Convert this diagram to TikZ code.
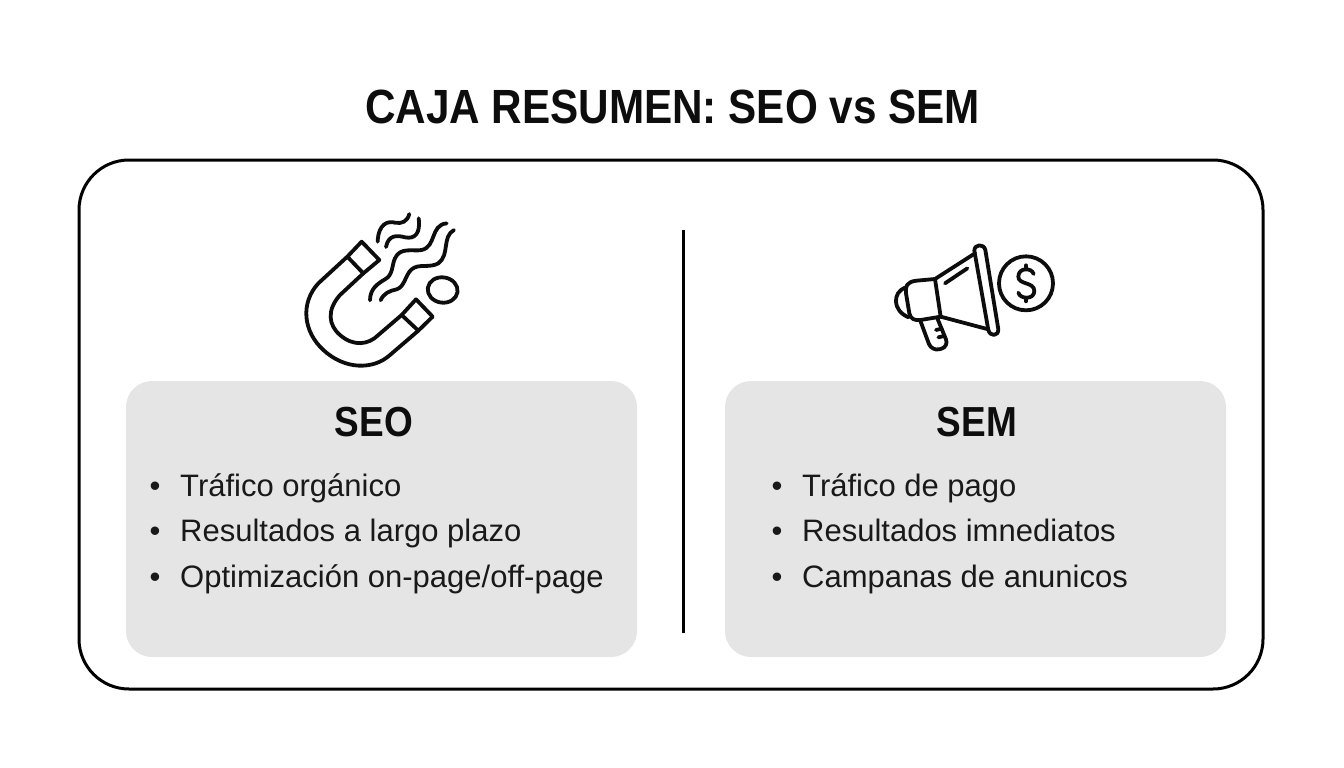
\documentclass[tikz,border=0pt]{standalone}
\usepackage{fontspec}
\setmainfont{Liberation Sans}
\newfontfamily\titlefont[FakeStretch=0.88]{Liberation Sans}
\usetikzlibrary{positioning}
\tikzset{
    panel/.style={fill=black!10,rounded corners=26pt,minimum height=276pt,inner sep=0pt},
    heading/.style={font=\titlefont\fontsize{42pt}{42pt}\selectfont\bfseries,text=black!95},
    listitem/.style={anchor=base west,inner sep=0pt,font=\fontsize{31pt}{31pt}\selectfont,text=black!90},
    icon/.style={line width=3.8pt,line cap=round,line join=round,black!95},
}
\newcommand{\itembullet}{\makebox[30.5pt][l]{\textbullet}}

\begin{document}
\begin{tikzpicture}[x=1pt,y=-1pt]
    \useasboundingbox (0,0) rectangle (1344,768);

    % Title
    \node[text=black!95,font=\titlefont\bfseries\fontsize{48pt}{48pt}\selectfont] (title) at (672.5,107) {CAJA RESUMEN: SEO vs SEM};

    % Outer box
    \draw[line width=3pt,rounded corners=50pt] (79,160) rectangle (1263,689);

    % Divider
    \coordinate (divtop) at (683,230);
    \coordinate (divbottom) at (683,633);
    \draw[line width=3pt] (divtop) -- (divbottom);

    % Panels
    \node[panel,minimum width=511pt] (seopanel) at (381.5,519) {};
    \node[panel,minimum width=501pt] (sempanel) at (975.5,519) {};

    % SEO text
    \node[heading] (seohead) at (374,422) {SEO};
    \node[listitem] (seoa) at (149.5,496.5) {\itembullet Tráfico orgánico};
    \node[listitem] (seob) at (149.5,541.5) {\itembullet Resultados a largo plazo};
    \node[listitem] (seoc) at (149.5,587.5) {\itembullet Optimización on-page/off-page};

    % SEM text
    \node[heading] (semhead) at (977,422) {SEM};
    \node[listitem] (sema) at (771.5,496.5) {\itembullet Tráfico de pago};
    \node[listitem] (semb) at (771.5,541.5) {\itembullet Resultados imnediatos};
    \node[listitem] (semc) at (771.5,587.5) {\itembullet Campanas de anunicos};

    % Magnet icon
    \begin{scope}[shift={(290,200)},scale=1/3,icon]
        \draw (172,170) -- (215,125) -- (268,180) -- (220,220) -- cycle;
        \draw (335,345) -- (378,298) -- (428,350) -- (385,392) -- cycle;
        \draw (172,170) -- (85,250) .. controls (30,310) and (40,395) .. (100,450)
            .. controls (165,510) and (250,510) .. (300,465) -- (385,392);
        \draw (220,220) -- (150,285) .. controls (110,330) and (115,375) .. (150,405)
            .. controls (190,440) and (235,435) .. (265,405) -- (335,345);
        % waves
        \draw (263,125) .. controls (265,70) and (295,62) .. (315,68) .. controls (335,72) and (352,65) .. (358,42);
        \draw (288,141) .. controls (295,105) and (320,105) .. (345,112) .. controls (375,118) and (392,100) .. (386,55);
        \draw (240,301) .. controls (240,265) and (265,250) .. (285,238) .. controls (310,225) and (305,195) .. (315,175)
            .. controls (330,140) and (370,155) .. (395,150) .. controls (440,140) and (420,75) .. (470,70);
        \draw (272,301) .. controls (280,280) and (300,272) .. (320,268) .. controls (345,260) and (345,225) .. (365,208)
            .. controls (385,190) and (420,205) .. (445,190) .. controls (480,165) and (455,110) .. (492,90);
        \draw[rotate around={-8:(458,270)}] (458,270) ellipse [x radius=45,y radius=38];
    \end{scope}

    % Megaphone icon
    \begin{scope}[shift={(880,230)},scale=1/3,icon]
        \draw (78,172) .. controls (55,180) and (48,197) .. (48,212) .. controls (48,235) and (62,252) .. (86,262);
        \draw (165,147) -- (110,152) .. controls (80,155) and (75,170) .. (78,190) -- (88,250) .. controls (92,268) and (105,272) .. (122,270) -- (182,260);
        \draw (165,147) -- (182,260);
        \draw (165,147) -- (285,70);
        \draw (182,260) -- (325,298);
        \draw (283,62) .. controls (283,42) and (312,40) .. (316,60) -- (355,298) .. controls (355,320) and (330,320) .. (325,300) -- cycle;
        \draw (195,160) -- (262,115);
        \draw[rounded corners=8pt] (122,275) -- (155,364) -- (207,350) -- (172,265);
        \draw (168,300) -- (185,296) (175,322) -- (192,318);
        \draw (438,160) circle [radius=81];
        \draw (461,132) .. controls (455,112) and (415,112) .. (415,140) .. controls (415,165) and (463,155) .. (463,183)
            .. controls (463,210) and (420,208) .. (415,188);
        \draw (438,106) -- (438,116) (438,204) -- (438,214);
    \end{scope}
\end{tikzpicture}
\end{document}
